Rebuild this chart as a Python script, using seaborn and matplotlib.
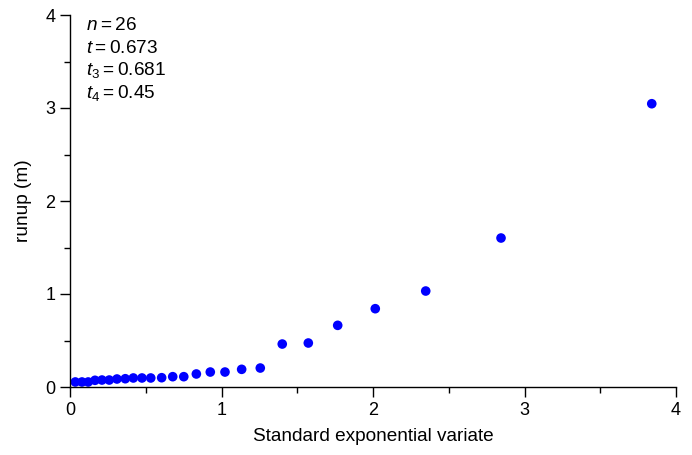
import numpy as np
import pandas as pd
import matplotlib
matplotlib.use("Agg")
import matplotlib.pyplot as plt
from matplotlib.ticker import MultipleLocator
import seaborn as sns

sns.set_theme(style="ticks")
plt.rcParams["font.family"] = ["Liberation Sans", "DejaVu Sans"]
plt.rcParams["mathtext.fontset"] = "custom"
plt.rcParams["mathtext.rm"] = "Liberation Sans"
plt.rcParams["mathtext.it"] = "Liberation Sans:italic"

# 标准指数变量 (x) 与 爬高 runup (y)
variate = [0.035, 0.079, 0.120, 0.165, 0.211, 0.259, 0.310, 0.365, 0.418, 0.475,
           0.533, 0.605, 0.678, 0.751, 0.834, 0.926, 1.023, 1.133, 1.256, 1.401,
           1.573, 1.767, 2.015, 2.348, 2.845, 3.840]
runup = [0.054, 0.054, 0.054, 0.072, 0.075, 0.075, 0.086, 0.089, 0.097, 0.097,
         0.097, 0.100, 0.111, 0.111, 0.140, 0.161, 0.161, 0.190, 0.204, 0.462,
         0.473, 0.663, 0.842, 1.032, 1.602, 3.046]

stats_lines = [r"$n\:$=$\:$26", r"$t\:$=$\:$0.673", r"$t_3\:$=$\:$0.681", r"$t_4\:$=$\:$0.45"]

df = pd.DataFrame({"x": variate, "y": runup})

fig = plt.figure(figsize=(6.92, 4.55), dpi=100)
ax = fig.add_axes([70 / 692, 1 - 387 / 455, 606 / 692, 372 / 455])

sns.scatterplot(data=df, x="x", y="y", ax=ax, color="#0000ff", s=48,
                edgecolor="none", linewidth=0, zorder=3, clip_on=False)

ax.set_xlim(0, 4)
ax.set_ylim(0, 4)
ax.xaxis.set_major_locator(MultipleLocator(1))
ax.xaxis.set_minor_locator(MultipleLocator(0.5))
ax.yaxis.set_major_locator(MultipleLocator(1))
ax.yaxis.set_minor_locator(MultipleLocator(0.5))
ax.tick_params(which="major", direction="out", length=7.5, width=1, color="black",
               labelsize=13, labelcolor="black", pad=3)
ax.tick_params(which="minor", direction="out", length=4.5, width=1, color="black")
for side in ["left", "bottom"]:
    ax.spines[side].set_color("black")
    ax.spines[side].set_linewidth(1)
sns.despine(ax=ax)
ax.spines["left"].set_zorder(5)
ax.spines["bottom"].set_zorder(5)

ax.set_xlabel("Standard exponential variate", fontsize=13.7, color="black", va="baseline")
ax.xaxis.set_label_coords(0.5, (387 - 441) / 372)
ax.set_ylabel("runup (m)", fontsize=13.7, color="black", va="center")
ax.yaxis.set_label_coords((24 - 70) / 606, 0.5)

for i, txt in enumerate(stats_lines):
    fig.text(86.5 / 692, 1 - (30.5 + 22.5 * i) / 455, txt, fontsize=13.7,
             va="baseline", ha="left", color="black")

fig.savefig("out.png", dpi=100)
